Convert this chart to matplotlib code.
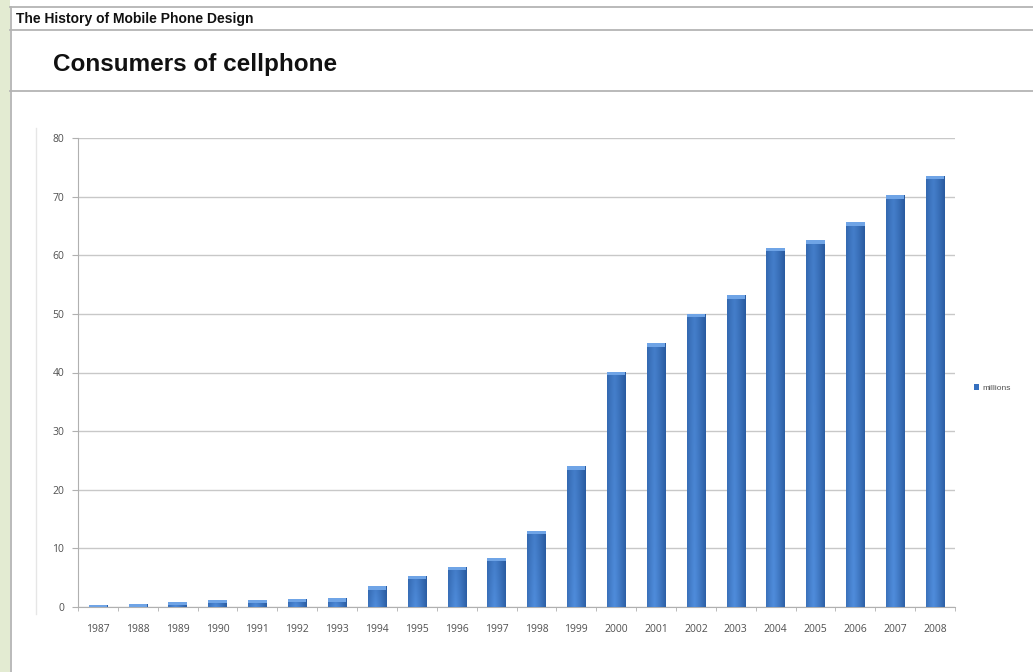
import matplotlib
matplotlib.use("Agg")
import matplotlib.pyplot as plt
import numpy as np
from matplotlib.patches import Rectangle
from matplotlib.lines import Line2D

years = ["1987", "1988", "1989", "1990", "1991", "1992", "1993", "1994", "1995", "1996", "1997",
         "1998", "1999", "2000", "2001", "2002", "2003", "2004", "2005", "2006", "2007", "2008"]
millions = [0.3, 0.5, 0.9, 1.2, 1.2, 1.4, 1.5, 3.5, 5.3, 6.9, 8.4,
            13.0, 24.0, 40.1, 45.0, 50.0, 53.2, 61.3, 62.6, 65.6, 70.2, 73.6]
yticks = [0, 10, 20, 30, 40, 50, 60, 70, 80]
series_name = "millions"
header = "The History of Mobile Phone Design"
title = "Consumers of cellphone"

W, H = 1033, 672
fig = plt.figure(figsize=(W / 100, H / 100), dpi=100)
fig.patch.set_facecolor("white")
plt.rcParams['font.family'] = ['Liberation Sans', 'DejaVu Sans']

def fx(px):
    return px / W

def fy(py):
    return 1 - py / H

# left green strip
fig.patches.append(Rectangle((0, 0), fx(10), 1, transform=fig.transFigure,
                             facecolor="#e3ebd2", edgecolor="none", zorder=0))
# frame lines
for y in [7, 30, 91]:
    fig.lines.append(Line2D([fx(10), 1], [fy(y), fy(y)], transform=fig.transFigure,
                            color="#b4b4b4", lw=1.3))
fig.lines.append(Line2D([fx(10.5), fx(10.5)], [fy(7), 0], transform=fig.transFigure,
                        color="#b4b4b4", lw=1.3))
fig.lines.append(Line2D([fx(36), fx(36)], [fy(128), fy(614)], transform=fig.transFigure,
                        color="#e6e6e6", lw=1.0))

fig.text(fx(16), fy(18.5), header, fontsize=10, fontweight="bold", color="#111111",
         va="center", ha="left")
fig.text(fx(53), fy(65), title, fontsize=17.5, fontweight="bold", color="#111111",
         va="center", ha="left")

ax = fig.add_axes([fx(78), fy(607), fx(955) - fx(78), fy(138) - fy(607)])
x = np.arange(len(years))
bars = ax.bar(x, millions, width=0.46, color="#3570bf", zorder=3, label=series_name)

# cylinder-like gradient
t = np.linspace(0, 1, 64)
horiz = 1 - 0.6 * np.abs(t - 0.4) ** 1.2 * 2
c_light = np.array([0x4f, 0x8c, 0xdb]) / 255
c_dark = np.array([0x1a, 0x47, 0x88]) / 255
for b in bars:
    bx, bw, bh = b.get_x(), b.get_width(), b.get_height()
    vert = np.linspace(0.78, 1.0, 32)[:, None]
    k = (horiz[None, :] * vert)
    k = np.clip(k, 0, 1)
    img = c_dark[None, None, :] + (c_light - c_dark)[None, None, :] * k[:, :, None]
    im = ax.imshow(img, extent=[bx, bx + bw, 0, bh], aspect="auto", origin="upper",
                   zorder=3, interpolation="bilinear")
    im.set_clip_path(b)
    b.set_facecolor("none")
    b.set_edgecolor("none")
    # lighter top cap
    ax.add_patch(Rectangle((bx, bh - 0.6), bw, 0.6, facecolor="#6fa4e6",
                           edgecolor="none", zorder=4))

ax.set_xlim(-0.5, len(years) - 0.5)
ax.set_ylim(0, 80)
ax.set_yticks(yticks)
ax.set_yticklabels([str(v) for v in yticks], fontsize=7.5, color="#505050",
                   family=["Open Sans", "DejaVu Sans"])
ax.set_xticks(x)
ax.set_xticklabels(years, fontsize=7.5, color="#505050", family=["Open Sans", "DejaVu Sans"])
ax.set_xticks(np.arange(-0.5, len(years), 1), minor=True)
ax.tick_params(axis="x", which="major", length=0, pad=12)
ax.tick_params(axis="x", which="minor", length=3, color="#b0b0b0")
ax.tick_params(axis="y", length=4, color="#b0b0b0", pad=6)
ax.grid(axis="y", color="#c8c8c8", lw=1.0, zorder=0)
for s in ["top", "right"]:
    ax.spines[s].set_visible(False)
ax.spines["left"].set_color("#b0b0b0")
ax.spines["bottom"].set_color("#b0b0b0")
ax.set_axisbelow(True)

handle = Rectangle((0, 0), 1, 1, facecolor="#3570bf", edgecolor="none")
fig.legend([handle], [series_name], loc="center left", bbox_to_anchor=(fx(966), fy(388)),
           frameon=False, fontsize=6, handlelength=0.7, handleheight=0.7,
           handletextpad=0.4, labelcolor="#505050")

fig.savefig("out.png", dpi=100, facecolor="white")
